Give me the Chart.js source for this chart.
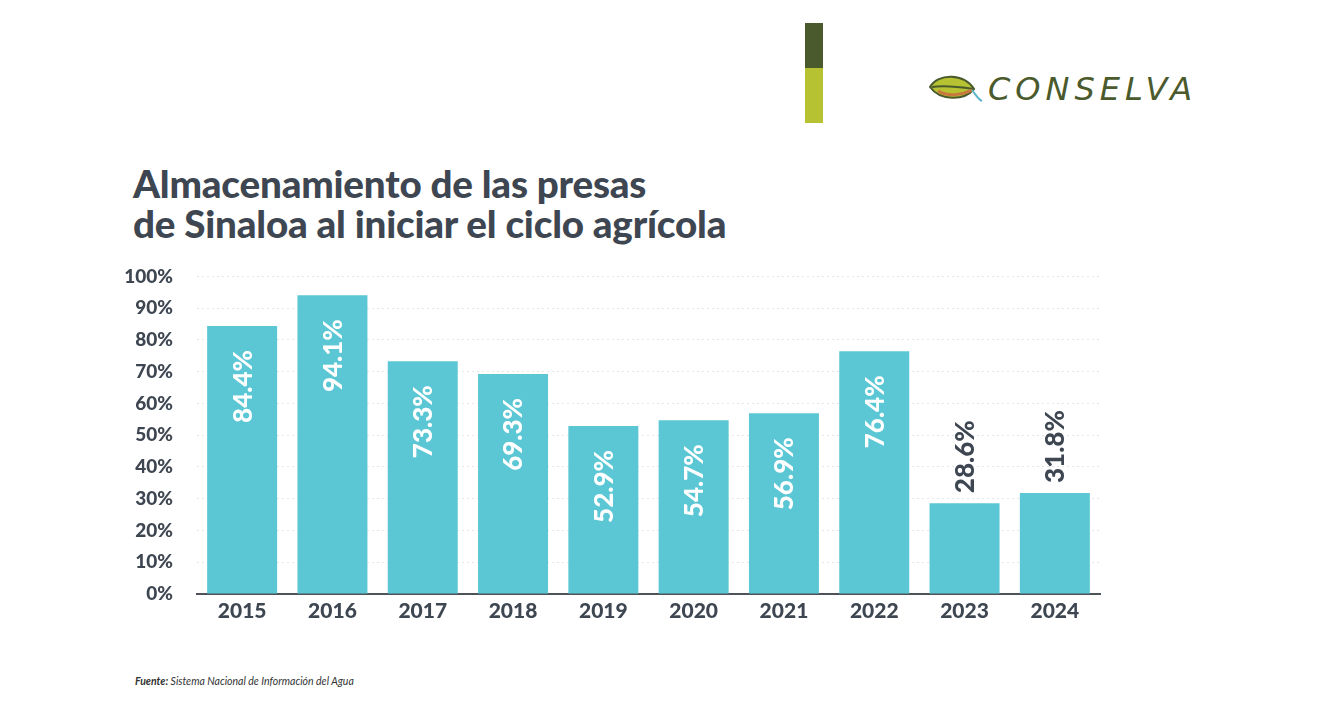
<!DOCTYPE html>
<html lang="es">
<head>
  <meta charset="UTF-8" />
  <title>Almacenamiento de las presas de Sinaloa</title>
  <script src="https://cdn.jsdelivr.net/npm/chart.js"></script>
  <style>
    body { margin: 0; background: #fff; font-family: Lato, "Open Sans", sans-serif; }
    .page { position: relative; width: 1329px; height: 717px; overflow: hidden; }
    .bar-top { position: absolute; left: 805px; top: 23px; width: 18px; height: 45px; background: #4a5a2c; }
    .bar-bot { position: absolute; left: 805px; top: 68px; width: 18px; height: 55px; background: #b6c232; }
    .logo { position: absolute; left: 928px; top: 70px; display: flex; align-items: center; }
    .logo span { font-family: "DejaVu Sans", sans-serif; font-style: italic; font-size: 32px; letter-spacing: 5px; color: #4a5a2c; margin-left: 4px; }
    h1 { position: absolute; left: 133px; top: 163px; margin: 0; font-size: 38.6px; line-height: 40px; font-weight: 900; color: #3d4651; letter-spacing: -0.2px; }
    .chart-box { position: absolute; left: 100px; top: 241px; width: 1020px; height: 394px; }
    .source { position: absolute; left: 135px; top: 675px; font-size: 10.5px; font-style: italic; color: #333; }
  </style>
</head>
<body>
<div class="page">
  <div class="bar-top"></div>
  <div class="bar-bot"></div>
  <div class="logo">
    <svg width="56" height="36" viewBox="0 0 56 36">
      <path d="M2 16 C10 2, 36 2, 46 18 C36 30, 12 30, 2 16 Z" fill="#b6c232" stroke="#4a5a2c" stroke-width="2"/>
      <path d="M4 16 C18 14, 32 16, 46 18" stroke="#4a5a2c" stroke-width="2" fill="none"/>
      <path d="M10 20 C20 26, 34 24, 44 19" stroke="#c7783a" stroke-width="3" fill="none"/>
      <path d="M44 19 C48 24, 50 28, 54 30" stroke="#5bb4c8" stroke-width="2" fill="none"/>
    </svg>
    <span>CONSELVA</span>
  </div>

  <h1>Almacenamiento de las presas<br>de Sinaloa al iniciar el ciclo agrícola</h1>

  <div class="chart-box"><canvas id="chart"></canvas></div>

  <div class="source"><b>Fuente:</b> Sistema Nacional de Información del Agua</div>
</div>

<script>
  const years = ['2015', '2016', '2017', '2018', '2019', '2020', '2021', '2022', '2023', '2024'];
  const storage = [84.4, 94.1, 73.3, 69.3, 52.9, 54.7, 56.9, 76.4, 28.6, 31.8];
  const yTicks = [0, 10, 20, 30, 40, 50, 60, 70, 80, 90, 100];

  const barColor = '#5bc7d4';
  const textColor = '#3d4651';

  // labels rotated 90 degrees, inside the bar for tall bars, above it for short ones
  const barLabels = {
    id: 'barLabels',
    afterDatasetsDraw(chart) {
      const ctx = chart.ctx;
      const meta = chart.getDatasetMeta(0);
      ctx.save();
      ctx.font = '900 26px Lato';
      ctx.textBaseline = 'middle';
      meta.data.forEach((bar, i) => {
        const v = storage[i];
        const text = v.toFixed(1) + '%';
        ctx.save();
        if (v > 40) {
          ctx.translate(bar.x, bar.y + 24);
          ctx.rotate(-Math.PI / 2);
          ctx.textAlign = 'right';
          ctx.fillStyle = '#ffffff';
        } else {
          ctx.translate(bar.x, bar.y - 10);
          ctx.rotate(-Math.PI / 2);
          ctx.textAlign = 'left';
          ctx.fillStyle = textColor;
        }
        ctx.fillText(text, 0, 1);
        ctx.restore();
      });
      ctx.restore();
    }
  };

  new Chart(document.getElementById('chart'), {
    type: 'bar',
    data: {
      labels: years,
      datasets: [{
        data: storage,
        backgroundColor: barColor,
        categoryPercentage: 1.0,
        barPercentage: 0.775
      }]
    },
    options: {
      responsive: true,
      maintainAspectRatio: false,
      animation: false,
      layout: { padding: { top: 9, right: 20, left: 0, bottom: 0 } },
      plugins: {
        legend: { display: false },
        tooltip: { enabled: false }
      },
      scales: {
        x: {
          afterFit(scale) { scale.height = 41; },
          grid: { display: false, drawTicks: false },
          border: { color: '#4d5358', width: 2 },
          ticks: {
            color: textColor,
            padding: 5,
            font: { family: 'Lato', size: 21, weight: '900' }
          }
        },
        y: {
          min: 0,
          max: 100,
          afterFit(scale) { scale.width = 97; },
          afterBuildTicks(scale) { scale.ticks = yTicks.map(v => ({ value: v })); },
          grid: { color: '#e6e6e6', drawTicks: false },
          border: { display: false, dash: [2, 3] },
          ticks: {
            color: textColor,
            padding: 24,
            font: { family: 'Lato', size: 19, weight: '900' },
            callback: v => v + '%'
          }
        }
      }
    },
    plugins: [barLabels]
  });
</script>
</body>
</html>
